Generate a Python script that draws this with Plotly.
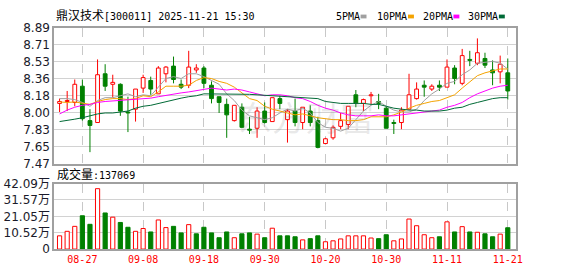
import plotly.graph_objects as go
import numpy as np

# ---------------- data ----------------
dates = ["2025-08-22", "2025-08-25", "2025-08-26", "2025-08-27", "2025-08-28", "2025-08-29",
         "2025-09-01", "2025-09-02", "2025-09-03", "2025-09-04", "2025-09-05",
         "2025-09-08", "2025-09-09", "2025-09-10", "2025-09-11", "2025-09-12",
         "2025-09-15", "2025-09-16", "2025-09-17", "2025-09-18", "2025-09-19",
         "2025-09-22", "2025-09-23", "2025-09-24", "2025-09-25", "2025-09-26",
         "2025-09-29", "2025-09-30", "2025-10-09", "2025-10-10",
         "2025-10-13", "2025-10-14", "2025-10-15", "2025-10-16", "2025-10-17",
         "2025-10-20", "2025-10-21", "2025-10-22", "2025-10-23", "2025-10-24",
         "2025-10-27", "2025-10-28", "2025-10-29", "2025-10-30", "2025-10-31",
         "2025-11-03", "2025-11-04", "2025-11-05", "2025-11-06", "2025-11-07",
         "2025-11-10", "2025-11-11", "2025-11-12", "2025-11-13", "2025-11-14",
         "2025-11-17", "2025-11-18", "2025-11-19", "2025-11-20", "2025-11-21"]

open_ = [8.10, 8.12, 8.11, 8.28, 7.92, 7.90, 8.41, 8.30, 8.30, 8.01,
         8.04, 8.26, 8.34, 8.20, 8.41, 8.49, 8.30, 8.29, 8.45, 8.47,
         8.29, 8.17, 8.09, 7.92, 8.06, 7.83, 7.84, 8.02, 7.91, 8.15,
         7.93, 8.02, 7.90, 8.02, 7.92, 7.68, 7.74, 7.86, 7.88, 8.19,
         8.10, 8.18, 8.12, 8.05, 7.90, 7.90, 8.04, 8.15, 8.29, 8.25,
         8.29, 8.27, 8.47, 8.31, 8.56, 8.52, 8.57, 8.45, 8.43, 8.42]
high = [8.15, 8.23, 8.35, 8.35, 8.04, 8.56, 8.51, 8.40, 8.31, 8.17,
        8.25, 8.40, 8.38, 8.49, 8.49, 8.59, 8.35, 8.65, 8.51, 8.49,
        8.33, 8.17, 8.15, 8.08, 8.10, 7.96, 8.06, 8.11, 8.16, 8.18,
        8.04, 8.15, 8.06, 8.08, 7.96, 7.74, 7.87, 8.00, 8.07, 8.24,
        8.15, 8.22, 8.20, 8.07, 7.93, 8.06, 8.41, 8.32, 8.34, 8.30,
        8.34, 8.56, 8.50, 8.67, 8.65, 8.78, 8.63, 8.55, 8.60, 8.57]
low = [8.01, 8.02, 8.07, 7.92, 7.59, 7.90, 8.23, 8.16, 7.97, 7.80,
       7.91, 8.21, 8.19, 8.20, 8.32, 8.31, 8.25, 8.26, 8.42, 8.26,
       8.10, 8.00, 7.74, 7.91, 7.84, 7.78, 7.74, 7.89, 7.91, 8.04,
       7.69, 7.86, 7.83, 7.86, 7.63, 7.68, 7.72, 7.83, 7.83, 8.06,
       8.02, 8.09, 8.04, 7.84, 7.78, 7.83, 8.04, 8.14, 8.17, 8.23,
       8.23, 8.27, 8.30, 8.29, 8.49, 8.50, 8.47, 8.29, 8.31, 8.14]
close = [8.12, 8.13, 8.30, 7.94, 7.87, 8.40, 8.28, 8.32, 8.02, 8.00,
         8.25, 8.37, 8.25, 8.47, 8.48, 8.35, 8.27, 8.48, 8.47, 8.31,
         8.15, 8.11, 7.98, 8.08, 7.85, 7.82, 8.02, 7.90, 8.16, 8.10,
         8.02, 7.90, 8.06, 7.90, 7.64, 7.73, 7.85, 7.92, 8.07, 8.10,
         8.14, 8.19, 8.10, 7.84, 7.89, 8.03, 8.19, 8.25, 8.27, 8.28,
         8.27, 8.48, 8.36, 8.60, 8.55, 8.63, 8.50, 8.42, 8.51, 8.23]
prev_close = 8.07  # close of the day before the first bar

ma5 = [8.15, 8.15, 8.14, 8.11, 8.07, 8.13, 8.16, 8.16, 8.18, 8.20,
       8.17, 8.19, 8.18, 8.27, 8.36, 8.38, 8.36, 8.41, 8.41, 8.38,
       8.34, 8.30, 8.20, 8.13, 8.03, 7.97, 7.95, 7.93, 7.95, 8.00,
       8.04, 8.02, 8.05, 8.00, 7.90, 7.85, 7.84, 7.81, 7.84, 7.93,
       8.02, 8.08, 8.12, 8.07, 8.03, 8.01, 8.01, 8.04, 8.13, 8.20,
       8.25, 8.31, 8.33, 8.40, 8.45, 8.52, 8.53, 8.54, 8.52, 8.46]
ma10 = [8.115, 8.11, 8.115, 8.105, 8.09, 8.12, 8.14, 8.15, 8.15, 8.14,
        8.15, 8.18, 8.17, 8.22, 8.28, 8.28, 8.28, 8.29, 8.34, 8.37,
        8.36, 8.33, 8.31, 8.27, 8.21, 8.15, 8.13, 8.07, 8.04, 8.02,
        8.00, 7.98, 7.99, 7.97, 7.95, 7.94, 7.93, 7.93, 7.92, 7.92,
        7.93, 7.96, 7.96, 7.96, 7.98, 8.01, 8.05, 8.08, 8.10, 8.12,
        8.13, 8.16, 8.19, 8.26, 8.33, 8.39, 8.42, 8.44, 8.46, 8.46]
ma20 = [7.99, 8.03, 8.06, 8.08, 8.09, 8.11, 8.12, 8.125, 8.13, 8.135,
        8.14, 8.15, 8.155, 8.17, 8.185, 8.20, 8.21, 8.22, 8.235, 8.25,
        8.26, 8.25, 8.24, 8.25, 8.24, 8.22, 8.20, 8.18, 8.19, 8.19,
        8.18, 8.16, 8.15, 8.12, 8.08, 8.05, 8.03, 8.00, 7.98, 7.97,
        7.97, 7.97, 7.98, 7.97, 7.97, 7.98, 7.99, 8.00, 8.01, 8.02,
        8.03, 8.06, 8.08, 8.11, 8.16, 8.20, 8.23, 8.26, 8.28, 8.29]
ma30 = [7.91, 7.92, 7.935, 7.95, 7.97, 7.99, 8.00, 8.00, 8.01, 8.02,
        8.05, 8.07, 8.08, 8.10, 8.12, 8.14, 8.155, 8.17, 8.18, 8.20,
        8.20, 8.20, 8.20, 8.20, 8.20, 8.195, 8.19, 8.185, 8.18, 8.175,
        8.17, 8.16, 8.16, 8.15, 8.15, 8.12, 8.11, 8.10, 8.10, 8.10,
        8.10, 8.09, 8.09, 8.07, 8.05, 8.04, 8.03, 8.03, 8.02, 8.02,
        8.02, 8.03, 8.05, 8.06, 8.09, 8.11, 8.13, 8.15, 8.16, 8.16]

# volume in 万 (10k)
volume = [8.5, 11.4, 14.6, 21.4, 15.9, 38.8, 23.2, 20.5, 17.1, 14.0,
          11.4, 13.2, 11.0, 18.7, 13.8, 14.6, 10.4, 15.7, 9.8, 14.0,
          10.4, 7.3, 11.0, 7.3, 9.8, 10.4, 9.6, 7.3, 13.4, 8.5,
          8.5, 7.9, 5.9, 6.7, 8.5, 4.7, 5.3, 6.5, 8.5, 8.5,
          8.5, 7.1, 6.7, 9.2, 5.3, 6.5, 19.3, 15.0, 9.2, 7.3,
          7.9, 17.5, 11.0, 14.4, 11.0, 10.8, 9.8, 7.9, 9.6, 13.7069]
last_volume_text = "137069"

price_ticks = ["7.47", "7.65", "7.83", "8.00", "8.18", "8.36", "8.53", "8.71", "8.89"]
vol_ticks = ["0", "10.52万", "21.05万", "31.57万", "42.09万"]
label_every = 8
label_start = 3

title_text = "鼎汉技术"
title_rest = "[300011] 2025-11-21 15:30"
ma_names = ["5PMA", "10PMA", "20PMA", "30PMA"]

# ---------------- styling ----------------
W, H = 578, 276
RED = "#ff0000"
GREEN = "#008000"
MA_COLORS = ["#a0a0a0", "#f4a300", "#ff00ff", "#006a36"]
GRID = "#d2d2d2"
VGRID = "#c8c8c8"
BORDER = "#a0a0a0"
MONO = "DejaVu Sans Mono, Noto Sans CJK SC"


def px_x(p):
    return p / W


def px_y(p):
    return 1 - p / H


n = len(dates)
xs = list(range(n))
is_up = [c >= o for o, c in zip(open_, close)]
prevs = [prev_close] + close[:-1]
vol_up = [c >= p for c, p in zip(close, prevs)]

fig = go.Figure()

# wicks (split above/below body so hollow bodies stay hollow)
for up_flag, col in [(True, RED), (False, GREEN)]:
    wx, wy = [], []
    for i in xs:
        if is_up[i] != up_flag:
            continue
        top = max(open_[i], close[i])
        bot = min(open_[i], close[i])
        wx += [i, i, None, i, i, None]
        wy += [high[i], top, None, bot, low[i], None]
    fig.add_trace(go.Scatter(x=wx, y=wy, mode="lines", line=dict(color=col, width=1),
                             xaxis="x", yaxis="y", hoverinfo="skip", showlegend=False))

# bodies
fig.add_trace(go.Bar(
    x=xs,
    y=[max(abs(c - o), 0.004) for o, c in zip(open_, close)],
    base=[min(o, c) for o, c in zip(open_, close)],
    width=0.5,
    marker=dict(color=["white" if u else GREEN for u in is_up],
                line=dict(color=[RED if u else GREEN for u in is_up], width=1)),
    xaxis="x", yaxis="y", showlegend=False, hoverinfo="skip"))

# moving averages
for vals, col in zip([ma5, ma10, ma20, ma30], MA_COLORS):
    fig.add_trace(go.Scatter(x=xs, y=vals, mode="lines", line=dict(color=col, width=1),
                             xaxis="x", yaxis="y", showlegend=False, hoverinfo="skip"))

# volume
fig.add_trace(go.Bar(
    x=xs, y=volume, width=0.55,
    marker=dict(color=["white" if u else GREEN for u in vol_up],
                line=dict(color=[RED if u else GREEN for u in vol_up], width=1)),
    xaxis="x2", yaxis="y2", showlegend=False, hoverinfo="skip"))

label_idx = list(range(label_start, n, label_every))
label_txt = [dates[i][5:] for i in label_idx]

xdom = [px_x(55), px_x(522)]
xrange_ = [-0.69, n + 0.04]
common_x = dict(domain=xdom, range=xrange_, tickvals=label_idx, showgrid=True,
                gridcolor=VGRID, griddash="dash", gridwidth=1, showline=True, mirror=True,
                linecolor=BORDER, linewidth=2, zeroline=False, ticks="", fixedrange=True)

fig.update_layout(
    width=W, height=H, margin=dict(l=0, r=0, t=0, b=0),
    paper_bgcolor="white", plot_bgcolor="white", barmode="overlay", showlegend=False,
    xaxis=dict(anchor="y", showticklabels=False, **common_x),
    xaxis2=dict(anchor="y2", ticktext=label_txt, showticklabels=True,
                tickfont=dict(family=MONO, size=10, color=RED), **common_x),
    yaxis=dict(domain=[px_y(165), px_y(22)], range=[7.47, 8.89], anchor="x",
               tickvals=list(np.linspace(7.47, 8.89, len(price_ticks))), ticktext=price_ticks,
               showgrid=True, gridcolor=GRID, showline=True, mirror=True, linecolor=BORDER,
               linewidth=2, zeroline=False, ticks="",
               tickfont=dict(family="DejaVu Sans", size=12, color="#1a1a2a")),
    yaxis2=dict(domain=[px_y(255), px_y(186)], range=[0, 42.09], anchor="x2",
                tickvals=list(np.linspace(0, 42.09, len(vol_ticks))), ticktext=vol_ticks,
                showgrid=True, gridcolor=GRID, showline=True, mirror=True, linecolor=BORDER,
                linewidth=2, zeroline=False, ticks="",
                tickfont=dict(family="DejaVu Sans, Noto Sans CJK SC", size=12, color="#1a1a2a")),
)

ann = []
# watermark
ann.append(dict(text="东方财富", x=px_x(310), y=px_y(87), xref="paper", yref="paper",
                showarrow=False, font=dict(family="Noto Sans CJK SC", size=34,
                                           color="rgba(120,120,120,0.16)")))
# title
ann.append(dict(text='<span style="font-size:12px">' + title_text + '</span>' + title_rest,
                x=px_x(55), y=px_y(10), xref="paper", yref="paper", xanchor="left",
                yanchor="middle", showarrow=False, font=dict(family=MONO, size=10, color="#000")))
# volume label
ann.append(dict(text='<span style="font-size:12px">成交量</span>:' + last_volume_text,
                x=px_x(56), y=px_y(176), xref="paper", yref="paper", xanchor="left",
                yanchor="middle", showarrow=False, font=dict(family=MONO, size=10, color="#000")))
# legend
leg_x = [338, 380, 426, 472]
shapes = []
for name, col, lx in zip(ma_names, MA_COLORS, leg_x):
    ann.append(dict(text=name, x=px_x(lx), y=px_y(10), xref="paper", yref="paper",
                    xanchor="left", yanchor="middle", showarrow=False,
                    font=dict(family=MONO, size=10, color="#000")))
    sx = lx + len(name) * 6 + 3
    shapes.append(dict(type="rect", xref="paper", yref="paper", x0=px_x(sx), x1=px_x(sx + 6),
                       y0=px_y(12), y1=px_y(8), fillcolor=col, line=dict(width=0)))

fig.update_layout(annotations=ann, shapes=shapes)
fig.write_html("out.html")
